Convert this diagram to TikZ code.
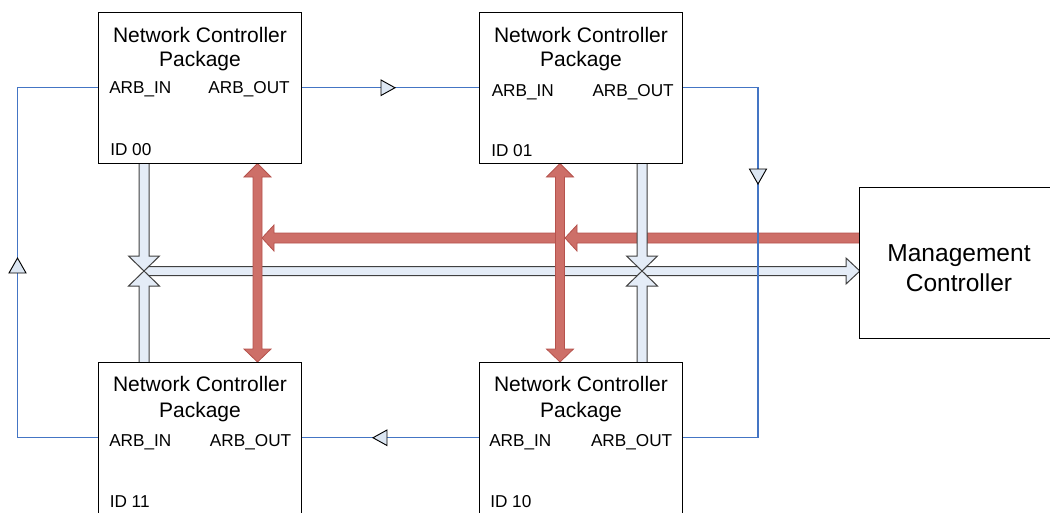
\documentclass[tikz,border=0pt]{standalone}
\usepackage{fontspec}
\setmainfont{Liberation Sans}
\usetikzlibrary{calc}
\pgfdeclarelayer{bg}
\pgfsetlayers{bg,main}
\definecolor{ringblue}{HTML}{4475C4}
\definecolor{trifill}{HTML}{DCE6F2}
\definecolor{busfill}{HTML}{E4ECF7}
\definecolor{busline}{HTML}{404040}
\definecolor{redfill}{HTML}{CD6F68}
\definecolor{redline}{HTML}{B5524C}
\begin{document}
\begin{tikzpicture}[x=0.75pt,y=-0.75pt,
  pkg/.style={draw=black, line width=0.75pt, fill=white, minimum width=152.4pt, minimum height=113.6pt, inner sep=0pt, outer sep=0pt},
  ttl/.style={inner sep=0pt, anchor=base, font=\fontsize{15.75}{18}\selectfont},
  lbl/.style={inner sep=0pt, font=\fontsize{12.9}{15}\selectfont},
  mtxt/.style={inner sep=0pt, anchor=base, font=\fontsize{18.4}{22}\selectfont},
  ring/.style={draw=ringblue, line width=0.8pt},
  tri/.style={draw=black, fill=trifill, line width=0.7pt, line join=miter},
  bus/.style={draw=busline, fill=busfill, line width=0.75pt, line join=miter},
  red/.style={draw=redline, fill=redfill, line width=0.6pt, line join=miter}]
\useasboundingbox (0,0) rectangle (1050,512);

% boxes
\node[pkg] (b00) at (199.9,87.75) {};
\node[pkg] (b01) at (580.9,87.75) {};
\node[pkg] (b11) at (199.9,437.75) {};
\node[pkg] (b10) at (580.9,437.75) {};
\node[pkg] (mc) at (961.5,263.25) {};

% box texts
\node[ttl] (t00a) at (200,42) {Network Controller};
\node[ttl] (t00b) at (200,66.5) {Package};
\node[lbl, anchor=base west] (t00c) at (109,93.5) {ARB\_IN};
\node[lbl, anchor=base east] (t00d) at (290,93.5) {ARB\_OUT};
\node[lbl, anchor=base west] (t00e) at (110,155.5) {ID 00};

\node[ttl] (t01a) at (581,42) {Network Controller};
\node[ttl] (t01b) at (581,66.5) {Package};
\node[lbl, anchor=base west] (t01c) at (491.5,96) {ARB\_IN};
\node[lbl, anchor=base east] (t01d) at (674,96) {ARB\_OUT};
\node[lbl, anchor=base west] (t01e) at (491,156.5) {ID 01};

\node[ttl] (t11a) at (200,391.5) {Network Controller};
\node[ttl] (t11b) at (200,417.5) {Package};
\node[lbl, anchor=base west] (t11c) at (109,446.5) {ARB\_IN};
\node[lbl, anchor=base east] (t11d) at (291.5,446.5) {ARB\_OUT};
\node[lbl, anchor=base west] (t11e) at (109.5,507) {ID 11};

\node[ttl] (t10a) at (581,391.5) {Network Controller};
\node[ttl] (t10b) at (581,417.5) {Package};
\node[lbl, anchor=base west] (t10c) at (489,446.5) {ARB\_IN};
\node[lbl, anchor=base east] (t10d) at (672.5,446.5) {ARB\_OUT};
\node[lbl, anchor=base west] (t10e) at (490,507) {ID 10};

\node[mtxt] (mca) at (959,261.5) {Management};
\node[mtxt] (mcb) at (959,291.5) {Controller};

\begin{pgfonlayer}{bg}
% red horizontal arrows (management -> packages)
\draw[red] (mc.west |- 0,233) -- (577,233) -- (577,225) -- (565,238) -- (577,251) -- (577,243) -- (mc.west |- 0,243);
\draw[red] (555,233) -- (274,233) -- (274,225) -- (262,238) -- (274,251) -- (274,243) -- (555,243);

% data bus horizontal
\draw[bus] (144,266.5) -- (846,266.5) -- (846,258) -- (mc.west |- 0,271) -- (846,284) -- (846,275.5) -- (144,275.5) -- cycle;

% data bus verticals (X junctions)
\draw[bus] (b00.south -| 139,0) -- (139,256) -- (128.5,256) -- (144,271) -- (159.5,256) -- (149,256) -- (b00.south -| 149,0);
\draw[bus] (b11.north -| 139,0) -- (139,286) -- (128.5,286) -- (144,271) -- (159.5,286) -- (149,286) -- (b11.north -| 149,0);
\draw[bus] (b01.south -| 637,0) -- (637,256) -- (626.5,256) -- (642,271) -- (657.5,256) -- (647,256) -- (b01.south -| 647,0);
\draw[bus] (b10.north -| 637,0) -- (637,286) -- (626.5,286) -- (642,271) -- (657.5,286) -- (647,286) -- (b10.north -| 647,0);

% red vertical double arrows
\draw[red] (b00.south -| 257.5,0) -- (271,177) -- (262,177) -- (262,349) -- (271,349) -- (b11.north -| 257.5,0) -- (244,349) -- (253,349) -- (253,177) -- (244,177) -- cycle;
\draw[red] (b01.south -| 560,0) -- (573.5,177) -- (564.5,177) -- (564.5,349) -- (573.5,349) -- (b10.north -| 560,0) -- (546.5,349) -- (555.5,349) -- (555.5,177) -- (546.5,177) -- cycle;

% arbitration ring
\draw[ring] (b00.east) -- (b01.west);
\draw[ring] (b01.east) -| ($(b10.east)+(75.5,0)$) -- (b10.east);
\draw[ring] (b10.west) -- (b11.east);
\draw[ring] (b11.west) -| ($(b00.west)+(-80.8,0)$) -- (b00.west);

% direction markers on ring
\draw[tri] (381,80) -- (395,87.75) -- (381,95.5) -- cycle;
\draw[tri] (749.5,169) -- (766.5,169) -- (758,184) -- cycle;
\draw[tri] (387,430) -- (373,437.75) -- (387,445.5) -- cycle;
\draw[tri] (9,273) -- (26,273) -- (17.5,258) -- cycle;
\end{pgfonlayer}
\end{tikzpicture}
\end{document}
